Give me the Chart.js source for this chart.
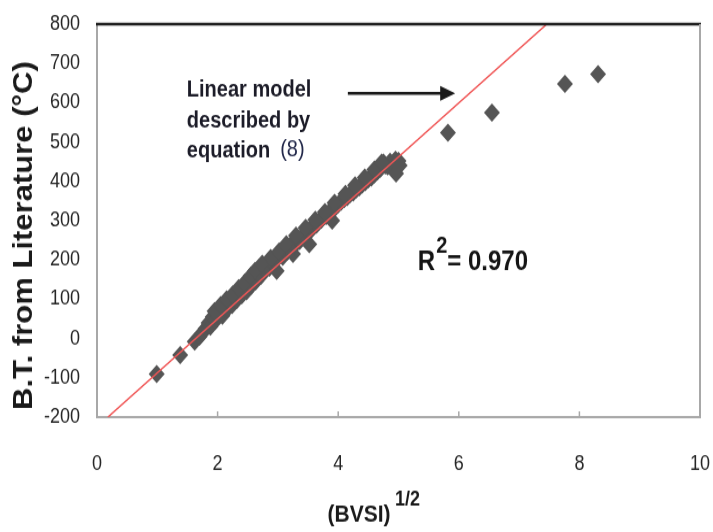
<!DOCTYPE html>
<html>
<head>
<meta charset="utf-8">
<script src="https://cdn.jsdelivr.net/npm/chart.js@4.4.1/dist/chart.umd.min.js"></script>
<style>
body{margin:0;background:#fff;}
#wrap{width:713px;height:532px;overflow:hidden;background:#fff;}
#graph{transform:scaleY(1.149);transform-origin:0 0;}
</style>
</head>
<body>
<div id="wrap"><canvas id="graph" width="713" height="463"></canvas></div>
<script>
// (BVSI)^1/2 と文献の沸点
var sqrtBvsi = [0.99, 1.38, 1.62, 1.70, 1.75, 1.80, 1.85, 1.88, 1.92, 1.96,
  2.00, 2.04, 2.08, 2.12, 2.16, 2.20, 2.24, 2.28, 2.32, 2.36,
  2.40, 2.44, 2.48, 2.52, 2.56, 2.60, 2.63, 2.66, 2.69, 2.72,
  2.75, 2.78, 2.82, 2.86, 2.90, 2.94, 2.98, 3.00, 3.04, 3.08,
  3.12, 3.16, 3.20, 3.24, 3.25, 3.28, 3.32, 3.36, 3.40, 3.44,
  3.48, 3.52, 3.52, 3.56, 3.60, 3.64, 3.68, 3.72, 3.76, 3.80,
  3.84, 3.88, 3.90, 3.92, 3.96, 4.00, 4.05, 4.10, 4.15, 4.20,
  4.25, 4.30, 4.35, 4.40, 4.45, 4.50, 4.55, 4.60, 4.65, 4.70,
  4.75, 4.78, 4.82, 4.86, 4.90, 4.95, 4.96, 5.00, 5.02,
  5.82, 6.55, 7.76, 8.31,
  1.95, 2.05, 2.15, 2.25, 2.35, 2.45, 2.55, 2.62, 2.74, 2.88,
  3.02, 3.14, 3.30, 3.46, 3.62, 3.78, 3.94, 4.12, 4.28, 4.44,
  4.60, 4.72];
var btLit = [-90, -42, -8, 5, 15, 25, 40, 30, 55, 45,
  62, 70, 58, 80, 75, 92, 85, 102, 98, 115,
  110, 128, 120, 140, 135, 155, 145, 170, 180, 160,
  185, 175, 190, 180, 195, 200, 172, 205, 212, 208,
  225, 222, 235, 242, 215, 238, 250, 248, 260, 262,
  270, 240, 275, 278, 288, 290, 298, 302, 310, 312,
  320, 325, 300, 330, 335, 342, 348, 355, 360, 368,
  372, 380, 385, 392, 398, 405, 410, 418, 425, 432,
  448, 440, 438, 450, 445, 455, 420, 452, 440,
  524, 575, 648, 673,
  70, 85, 100, 112, 128, 142, 160, 172, 190, 205,
  222, 240, 262, 282, 302, 322, 345, 368, 390, 410,
  430, 448];
// 線形モデル (式8)
var fitX = [0.18, 7.46];
var fitY = [-200, 800];
var xTicks = [0, 2, 4, 6, 8, 10];
var yTicks = [-200, -100, 0, 100, 200, 300, 400, 500, 600, 700, 800];

var FONT = '"Liberation Sans", Arial, sans-serif';

var pts = [];
for (let i = 0; i < sqrtBvsi.length; i++) pts.push({x: sqrtBvsi[i], y: btLit[i]});
var fit = [];
for (let i = 0; i < fitX.length; i++) fit.push({x: fitX[i], y: fitY[i]});

var deco = {
  id: 'deco',
  afterDraw: function(chart) {
    var c = chart.ctx, a = chart.chartArea, xs = chart.scales.x, ys = chart.scales.y;
    c.save();
    //枠
    c.strokeStyle = '#1e1e1e'; c.lineWidth = 2.5;
    c.beginPath(); c.moveTo(a.left - 1, a.top); c.lineTo(a.right + 1, a.top); c.stroke();
    c.strokeStyle = '#a8a8a8'; c.lineWidth = 2;
    c.beginPath(); c.moveTo(a.right, a.top); c.lineTo(a.right, a.bottom); c.stroke();
    //内側の目盛り
    c.lineWidth = 1.5;
    for (let v of [2, 4, 6, 8]) {
      let px = xs.getPixelForValue(v);
      c.beginPath(); c.moveTo(px, a.bottom); c.lineTo(px, a.bottom - 5); c.stroke();
    }
    //注釈
    c.fillStyle = '#1c1c28';
    c.textAlign = 'left'; c.textBaseline = 'middle';
    c.font = 'bold 20px ' + FONT;
    var tx = xs.getPixelForValue(1.49);
    c.fillText('Linear model', tx, ys.getPixelForValue(633));
    c.fillText('described by', tx, ys.getPixelForValue(554));
    c.fillText('equation', tx, ys.getPixelForValue(477));
    var we = c.measureText('equation').width;
    c.font = '20px ' + FONT;
    c.fillStyle = '#22284a';
    c.fillText('(8)', tx + we + 10, ys.getPixelForValue(479));
    //矢印
    var ay = ys.getPixelForValue(624);
    var ax0 = xs.getPixelForValue(4.16), ax1 = xs.getPixelForValue(5.94);
    c.strokeStyle = '#1a1a1a'; c.fillStyle = '#1a1a1a'; c.lineWidth = 2.5;
    c.beginPath(); c.moveTo(ax0, ay); c.lineTo(ax1 - 12, ay); c.stroke();
    c.beginPath(); c.moveTo(ax1, ay); c.lineTo(ax1 - 15, ay - 6.5); c.lineTo(ax1 - 15, ay + 6.5); c.closePath(); c.fill();
    //R2
    c.fillStyle = '#151515';
    c.textBaseline = 'alphabetic';
    var rx = xs.getPixelForValue(5.32), ry = ys.getPixelForValue(174);
    c.font = 'bold 24px ' + FONT;
    c.fillText('R', rx, ry);
    var wr = c.measureText('R').width;
    c.font = 'bold 20px ' + FONT;
    c.fillText('2', rx + wr + 1, ry - 15);
    var w2 = c.measureText('2').width;
    c.font = 'bold 24px ' + FONT;
    c.fillText('= 0.970', rx + wr + w2 + 1, ry);
    //軸タイトル
    c.fillStyle = '#1a1a1a';
    c.textBaseline = 'middle'; c.textAlign = 'center';
    c.font = 'bold 21px ' + FONT;
    c.fillText('(BVSI)', 359, 448);
    c.textAlign = 'left';
    c.font = 'bold 18px ' + FONT;
    c.fillText('1/2', 395, 435);
    c.translate(25, 205);
    c.rotate(-Math.PI / 2);
    c.textAlign = 'center';
    c.font = 'bold 27px ' + FONT;
    c.fillText('B.T. from Literature (\u00B0C)', 0, 0);
    c.restore();
  }
};

document.addEventListener('DOMContentLoaded', function() {
  var ctx = document.querySelector('#graph').getContext('2d');
  new Chart(ctx, {
    data: {
      datasets: [{
        type: 'line',
        data: fit,
        borderColor: '#f05656',
        borderWidth: 1.5,
        pointRadius: 0,
        fill: false
      }, {
        type: 'scatter',
        data: pts,
        pointStyle: 'rectRot',
        pointRadius: 8,
        pointHoverRadius: 8,
        backgroundColor: '#555555',
        borderColor: '#555555',
        borderWidth: 0
      }]
    },
    options: {
      responsive: false,
      animation: false,
      devicePixelRatio: 1,
      layout: { padding: { top: 21, right: 13, left: 0, bottom: 0 } },
      plugins: { legend: { display: false }, tooltip: { enabled: false } },
      scales: {
        x: {
          type: 'linear', min: 0, max: 10,
          afterBuildTicks: function(s) { s.ticks = xTicks.map(v => ({value: v})); },
          afterFit: function(s) { s.height = 100; s.paddingLeft = 0; s.paddingRight = 0; },
          grid: { display: true, drawOnChartArea: false, drawTicks: false },
          border: { color: '#a8a8a8', width: 2 },
          ticks: { padding: 30, color: '#262626', font: { family: FONT, size: 18 } }
        },
        y: {
          type: 'linear', min: -200, max: 800,
          afterBuildTicks: function(s) { s.ticks = yTicks.map(v => ({value: v})); },
          afterFit: function(s) { s.width = 97; s.paddingTop = 0; s.paddingBottom = 0; },
          grid: { display: true, drawOnChartArea: false, drawTicks: false },
          border: { color: '#a8a8a8', width: 2 },
          ticks: { padding: 17, color: '#262626', font: { family: FONT, size: 18 } }
        }
      }
    },
    plugins: [deco]
  });
});
</script>
</body>
</html>
